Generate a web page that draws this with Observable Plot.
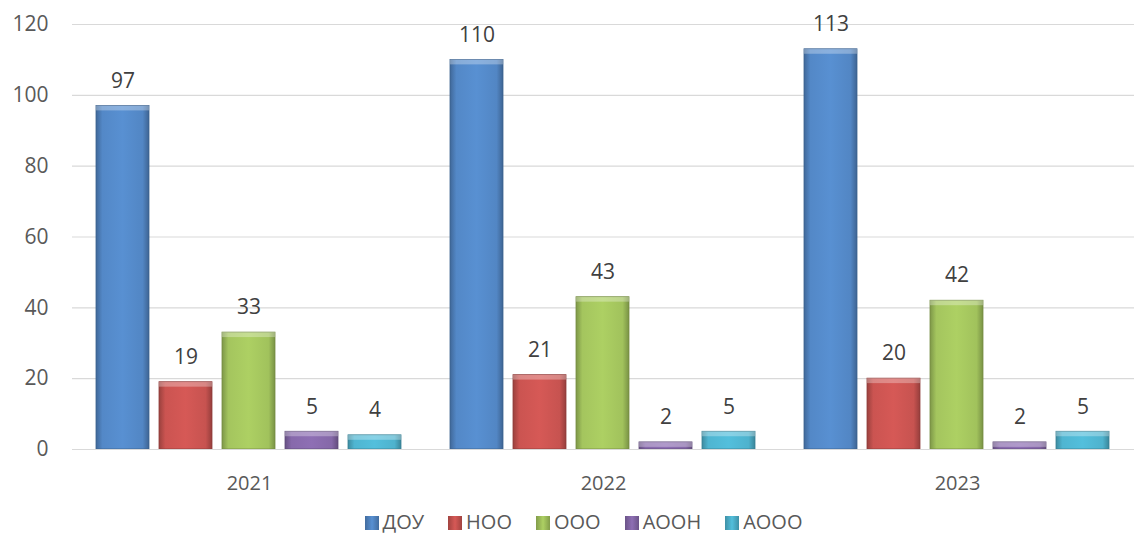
<!DOCTYPE html>
<html><head><meta charset="utf-8">
<script src="https://cdn.jsdelivr.net/npm/d3@7"></script>
<script src="https://cdn.jsdelivr.net/npm/@observablehq/plot@0.6"></script>
<style>
body{margin:0;background:#fff;font-family:"Open Sans",sans-serif;}
#legend{display:flex;justify-content:center;align-items:center;gap:24px;height:43px;font-size:20px;color:#595959;padding-left:30px;box-sizing:border-box}
#legend span.sw{display:inline-block;width:14px;height:14px;margin-right:4px;vertical-align:-1px}
svg text{font-family:"Open Sans",sans-serif}
</style></head>
<body>
<div id="chart"></div>
<div id="legend"></div>
<script>
const years = ["2021","2022","2023"];
const categories = ["ДОУ","НОО","ООО","АООН","АООО"];
const values2021 = [97,19,33,5,4];
const values2022 = [110,21,43,2,5];
const values2023 = [113,20,42,2,5];
const colors = ["#4F81BD","#C0504D","#9BBB59","#8064A2","#4BACC6"];
const yTicks = [0,20,40,60,80,100,120];

const seriesByYear = [values2021, values2022, values2023];
const data = [];
years.forEach((y,i)=>categories.forEach((c,j)=>data.push({year:y,cat:c,ci:j,value:seriesByYear[i][j]})));

const chart = Plot.plot({
  width:1137, height:500,
  marginLeft:71, marginRight:2, marginTop:24, marginBottom:51,
  style:{fontFamily:"'Open Sans',sans-serif", fontSize:"21px", color:"#595959"},
  fx:{domain:years, padding:0, label:null, axis:null},
  x:{domain:categories, paddingInner:0.156, paddingOuter:0.37, axis:null},
  y:{domain:[0,120], ticks:yTicks, label:null, axis:null},
  marks:[
    Plot.ruleY(yTicks.slice(1), {stroke:"#d9d9d9", strokeWidth:1.2}),
    Plot.axisY({ticks:yTicks, tickSize:0, tickPadding:24, label:null, fontSize:21, fill:"#595959"}),
    Plot.axisFx({domain:years, tickSize:0, tickPadding:26, label:null, fontSize:20, fill:"#595959", anchor:"bottom"}),
    ...categories.map((c,i)=>Plot.barY(data.filter(d=>d.ci===i), {fx:"year", x:"cat", y:"value", fill:`url(#g${i})`, stroke:d3.color(colors[i]).darker(0.8).formatHex(), strokeWidth:0.8})),
    Plot.barY(data, {fx:"year", x:"cat", y1:d=>d.value, y2:d=>Math.max(0,d.value-1.4), fill:"#ffffff", fillOpacity:0.3}),
    Plot.text(data, {fx:"year", x:"cat", y:"value", text:d=>String(d.value), dy:-25, fill:"#404040", fontSize:21}),
    Plot.ruleY([0], {stroke:"#d9d9d9", strokeWidth:1.2})
  ]
});

const defs = d3.select(chart).insert("defs", ":first-child");
colors.forEach((c,i)=>{
  const base = d3.color(c);
  const g = defs.append("linearGradient").attr("id","g"+i).attr("x1","0").attr("x2","1").attr("y1","0").attr("y2","0");
  [[0, base.darker(0.6)],[0.12, base.brighter(0.15)],[0.5, base.brighter(0.3)],[0.88, base.brighter(0.1)],[1, base.darker(0.7)]]
    .forEach(([o,col])=>g.append("stop").attr("offset",o).attr("stop-color",col.formatHex()));
});
document.getElementById("chart").appendChild(chart);

const lg = document.getElementById("legend");
categories.forEach((c,i)=>{
  const it = document.createElement("span");
  const b = d3.color(colors[i]);
  it.innerHTML = `<span class="sw" style="background:linear-gradient(90deg, ${b.darker(0.5).formatHex()}, ${b.brighter(0.3).formatHex()}, ${b.darker(0.5).formatHex()})"></span>${c}`;
  lg.appendChild(it);
});
</script>
</body></html>
